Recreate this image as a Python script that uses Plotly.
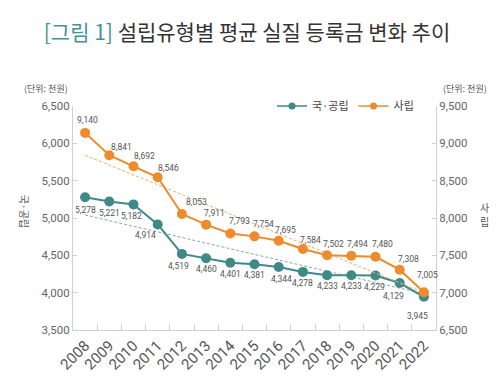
import plotly.graph_objects as go

years = ["2008", "2009", "2010", "2011", "2012", "2013", "2014", "2015",
         "2016", "2017", "2018", "2019", "2020", "2021", "2022"]
public_vals = [5278, 5221, 5182, 4914, 4519, 4460, 4401, 4381,
               4344, 4278, 4233, 4233, 4229, 4129, 3945]
private_vals = [9140, 8841, 8692, 8546, 8053, 7911, 7793, 7754,
                7695, 7584, 7502, 7494, 7480, 7308, 7005]
# dashed trend lines (start 2008, end 2022)
trend_years = ["2008", "2022"]
public_trend = [5040, 3985]
private_trend = [8840, 7000]

left_ticks = [3500, 4000, 4500, 5000, 5500, 6000, 6500]
right_ticks = [6500, 7000, 7500, 8000, 8500, 9000, 9500]

# label offsets in pixels (style only)
pub_dx = [0, 0, -2, -12, -3, 0, 0, 0, 3, 0, 0, 0, -1, -6, -6]
pub_dy = [-13, -11, -12, -11, -12, -11, -11, -11, -12, -11, -11, -11, -11, -13, -19]
priv_dx = [2, 12, 11, 11, 15, 8, 9, 9, 7, 8, 6, 6, 7, 9, 4]
priv_dy = [13, 8, 10, 9, 12, 12, 12, 12, 11, 9, 11, 12, 13, 11, 17]

TEAL = "#3f8a87"
ORANGE = "#ef8b2c"
NUM_FONT = "Roboto, Liberation Sans, sans-serif"
KR_FONT = "Noto Sans CJK KR, Noto Sans, sans-serif"

W, H = 500, 377
L, R, T, B = 65, 72, 98, 44
PW, PH = W - L - R, H - T - B


def px(x):
    return (x - L) / PW


def py(y):
    return 1 - (y - T) / PH


fig = go.Figure()
fig.add_trace(go.Scatter(x=trend_years, y=public_trend, mode="lines",
                         line=dict(color="#86a8a6", width=1, dash="3px,2px"),
                         showlegend=False, hoverinfo="skip"))
fig.add_trace(go.Scatter(x=trend_years, y=private_trend, mode="lines", yaxis="y2",
                         line=dict(color="#f0ac72", width=1, dash="3px,2px"),
                         showlegend=False, hoverinfo="skip"))
fig.add_trace(go.Scatter(x=years, y=public_vals, name="국·공립",
                         mode="lines+markers", showlegend=False,
                         line=dict(color=TEAL, width=2),
                         marker=dict(color=TEAL, size=10)))
fig.add_trace(go.Scatter(x=years, y=private_vals, name="사립", yaxis="y2",
                         mode="lines+markers", showlegend=False,
                         line=dict(color=ORANGE, width=2),
                         marker=dict(color=ORANGE, size=10)))
# legend entries (small symbols, as in the reference legend)
fig.add_trace(go.Scatter(x=[None], y=[None], name="국·공립", mode="lines+markers",
                         line=dict(color=TEAL, width=1.5),
                         marker=dict(color=TEAL, size=7)))
fig.add_trace(go.Scatter(x=[None], y=[None], name="사립", mode="lines+markers",
                         line=dict(color=ORANGE, width=1.5),
                         marker=dict(color=ORANGE, size=7)))

# value labels; category axis annotations use the category index
label_font = dict(family=NUM_FONT, size=8.5, color="#555")
for i, (v, dx, dy) in enumerate(zip(public_vals, pub_dx, pub_dy)):
    fig.add_annotation(x=i, y=v, xref="x", yref="y", text=f"{v:,}",
                       showarrow=False, xshift=dx, yshift=dy,
                       xanchor="center", yanchor="middle", font=label_font)
for i, (v, dx, dy) in enumerate(zip(private_vals, priv_dx, priv_dy)):
    fig.add_annotation(x=i, y=v, xref="x", yref="y2", text=f"{v:,}",
                       showarrow=False, xshift=dx, yshift=dy,
                       xanchor="center", yanchor="middle", font=label_font)

axis_common = dict(showgrid=False, zeroline=False, showline=True,
                   linecolor="#d0d0d0", linewidth=1, ticks="inside",
                   tickcolor="#d0d0d0", ticklen=4,
                   tickfont=dict(family=NUM_FONT, size=11.5, color="#666"))

fig.update_layout(
    width=W, height=H,
    margin=dict(l=L, r=R, t=T, b=B),
    paper_bgcolor="white", plot_bgcolor="white",
    font=dict(family=KR_FONT, color="#444"),
    title=dict(text="<span style='color:#3f9495'>[그림 1]</span> 설립유형별 평균 실질 등록금 변화 추이",
               x=0.478, xanchor="center", y=1 - 25 / H, yanchor="middle",
               yref="container", xref="container",
               font=dict(family=KR_FONT, size=21, color="#333")),
    xaxis=dict(type="category", categoryorder="array", categoryarray=years,
               tickangle=-45, tickson="boundaries",
               showgrid=False, zeroline=False, showline=True,
               linecolor="#d0d0d0", ticks="inside", tickcolor="#d0d0d0",
               ticklen=6, range=[-0.5, 14.5],
               tickfont=dict(family=NUM_FONT, size=15, color="#555")),
    yaxis=dict(range=[3500, 6500], tickvals=left_ticks, tickformat=",",
               **axis_common),
    yaxis2=dict(range=[6500, 9500], tickvals=right_ticks, tickformat=",",
                overlaying="y", side="right", **axis_common),
    legend=dict(orientation="h", x=px(264), xanchor="left", y=1.0,
                yanchor="middle", bgcolor="rgba(0,0,0,0)",
                font=dict(family=KR_FONT, size=11, color="#444")),
    showlegend=True,
)

fig.add_annotation(text="(단위: 천원)", xref="paper", yref="paper",
                   x=px(14), y=py(80), xanchor="left", yanchor="middle",
                   showarrow=False, font=dict(family=KR_FONT, size=9, color="#555"))
fig.add_annotation(text="(단위: 천원)", xref="paper", yref="paper",
                   x=px(481), y=py(80), xanchor="right", yanchor="middle",
                   showarrow=False, font=dict(family=KR_FONT, size=9, color="#555"))
fig.add_annotation(text="국·공립", xref="paper", yref="paper",
                   x=px(16), y=py(208), xanchor="center", yanchor="middle",
                   textangle=90, showarrow=False,
                   font=dict(family=KR_FONT, size=10, color="#555"))
fig.add_annotation(text="사", xref="paper", yref="paper", borderpad=0,
                   x=px(476), y=py(204), xanchor="center", yanchor="middle",
                   showarrow=False, font=dict(family=KR_FONT, size=10, color="#555"))
fig.add_annotation(text="립", xref="paper", yref="paper", borderpad=0,
                   x=px(476), y=py(219), xanchor="center", yanchor="middle",
                   showarrow=False, font=dict(family=KR_FONT, size=10, color="#555"))

fig.write_html("out.html")
